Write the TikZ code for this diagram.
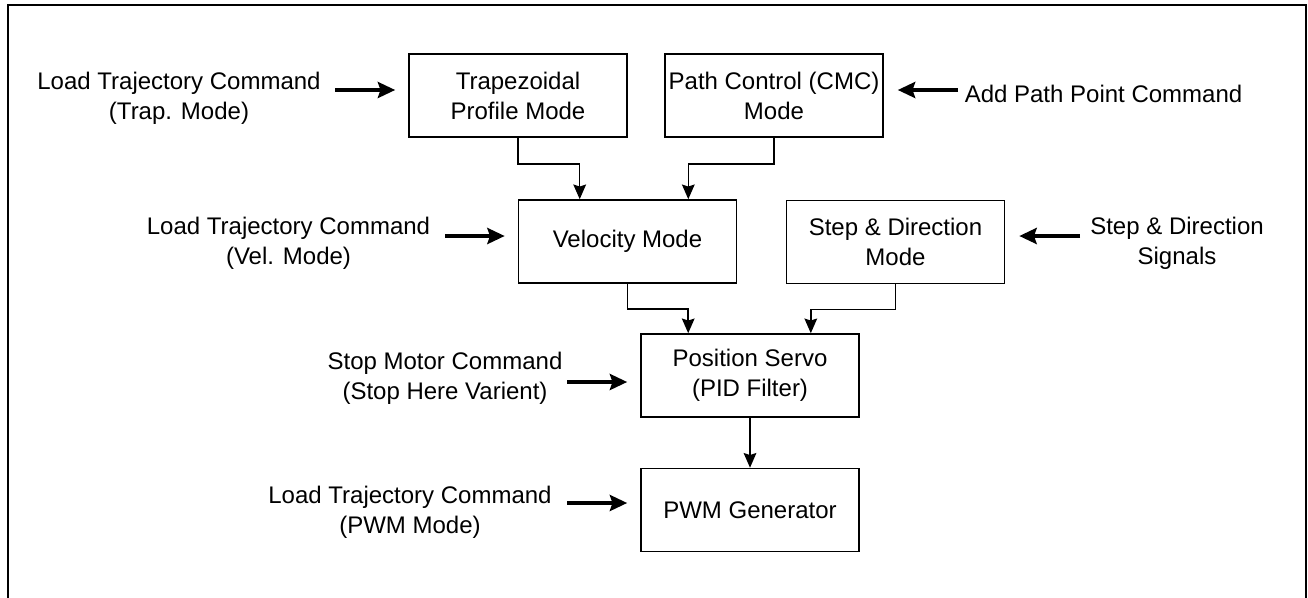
\documentclass[tikz,border=0pt]{standalone}
\usepackage{fontspec}
\setmainfont{Liberation Sans}
\usetikzlibrary{arrows.meta}
\tikzset{
  blk/.style={draw, line width=1.2pt, minimum width=163.5pt, minimum height=62.25pt, inner sep=0pt, align=center, font=\fontsize{18}{22.5}\selectfont},
  lbl/.style={align=center, inner sep=0pt, font=\fontsize{18}{22.5}\selectfont},
  conn/.style={line width=1.1pt, -{Stealth[length=11pt,width=9.5pt,inset=1.5pt]}},
  inarrow/.style={line width=3pt, -{Stealth[length=13pt,width=12pt,inset=2pt]}},
}
\begin{document}
\begin{tikzpicture}[x=0.75pt,y=-0.75pt]
\useasboundingbox (0,0) rectangle (1308,597);
% outer frame
\draw[line width=1.5pt] (8,605) -- (8,5) -- (1306,5) -- (1306,605);

% blocks
\node[blk] (trap) at (518,95.5) {Trapezoidal\\Profile Mode};
\node[blk] (path) at (774,95.5) {Path Control (CMC)\\Mode};
\node[blk] (vel)  at (627.5,241.5) {Velocity Mode};
\node[blk] (step) at (895.5,242) {Step \& Direction\\Mode};
\node[blk] (pos)  at (750,375.5) {Position Servo\\(PID Filter)};
\node[blk] (pwm)  at (750,510) {PWM Generator};

% labels
\node[lbl] (l1) at (179,98) {Load Trajectory Command\\(Trap. Mode)};
\node[lbl] (l2) at (1103.5,93.5) {Add Path Point Command};
\node[lbl] (l3) at (288.5,243) {Load Trajectory Command\\(Vel. Mode)};
\node[lbl] (l4) at (1177,243) {Step \& Direction\\Signals};
\node[lbl] (l5) at (445,378) {Stop Motor Command\\(Stop Here Varient)};
\node[lbl] (l6) at (410,512) {Load Trajectory Command\\(PWM Mode)};

% internal connectors
\draw[conn] (trap.south) -- ++(0,26) -| ([xshift=46.5pt]vel.north west);
\draw[conn] (path.south) -- ++(0,26) -| ([xshift=-36.75pt]vel.north east);
\draw[conn] (vel.south) -- ++(0,25) -| ([xshift=36pt]pos.north west);
\draw[conn] (step.south) -- ++(0,25) -| ([xshift=-36.75pt]pos.north east);
\draw[conn] (pos.south) -- (pwm.north);

% input arrows
\coordinate (a1) at (335,90);
\coordinate (a2) at (958,90);
\coordinate (a3) at (445,236);
\coordinate (a4) at (1080,236);
\coordinate (a5) at (567,382);
\coordinate (a6) at (567,503);
\draw[inarrow, shorten >=9.75pt] (a1) -- (trap.west |- a1);
\draw[inarrow, shorten >=10.5pt] (a2) -- (path.east |- a2);
\draw[inarrow, shorten >=9.75pt] (a3) -- (vel.west |- a3);
\draw[inarrow, shorten >=10.5pt] (a4) -- (step.east |- a4);
\draw[inarrow, shorten >=9.75pt] (a5) -- (pos.west |- a5);
\draw[inarrow, shorten >=9.75pt] (a6) -- (pwm.west |- a6);
\end{tikzpicture}
\end{document}
